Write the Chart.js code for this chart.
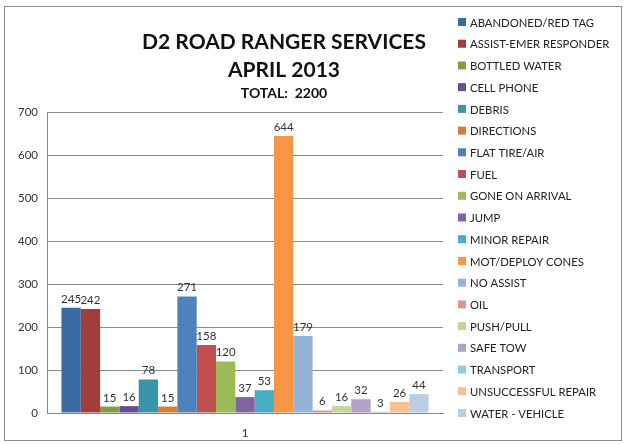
<!DOCTYPE html>
<html>
<head>
<meta charset="utf-8">
<script src="https://cdn.jsdelivr.net/npm/chart.js@4.4.1/dist/chart.umd.min.js"></script>
<style>
    html, body { margin: 0; padding: 0; background: #fff; }
    #wrap { position: relative; width: 624px; height: 444px; }
    #frame { position: absolute; left: 4px; top: 6px; width: 616px; height: 433px; border: 1px solid #8c8c8c; pointer-events: none; }
</style>
</head>
<body>
<div id="wrap">
    <canvas id="myChart" width="624" height="444"></canvas>
    <div id="frame"></div>
</div>
<script>
// data
const categories = ['1'];
const serviceNames = [
    'ABANDONED/RED TAG', 'ASSIST-EMER RESPONDER', 'BOTTLED WATER', 'CELL PHONE',
    'DEBRIS', 'DIRECTIONS', 'FLAT TIRE/AIR', 'FUEL', 'GONE ON ARRIVAL', 'JUMP',
    'MINOR REPAIR', 'MOT/DEPLOY CONES', 'NO ASSIST', 'OIL', 'PUSH/PULL',
    'SAFE TOW', 'TRANSPORT', 'UNSUCCESSFUL REPAIR', 'WATER - VEHICLE'
];
const serviceCounts = [245, 242, 15, 16, 78, 15, 271, 158, 120, 37, 53, 644, 179, 6, 16, 32, 3, 26, 44];
const yTicks = [0, 100, 200, 300, 400, 500, 600, 700];
const titleLines = ['D2 ROAD RANGER SERVICES', 'APRIL 2013'];
const subTitle = 'TOTAL:  2200';

const barColors = [
    '#3c6aa3', '#a23d3a', '#7f9c47', '#664f88', '#3895ab', '#d27e36',
    '#4f81bd', '#c0504d', '#9bbb59', '#8064a2', '#4bacc6', '#f79646',
    '#95b3d7', '#d99694', '#c3d69b', '#b3a2c7', '#93cddd', '#fac090', '#b9cde5'
];

const FONT = 'Lato, "Open Sans", sans-serif';

const datasets = serviceNames.map((name, i) => ({
    label: name,
    data: [serviceCounts[i]],
    backgroundColor: barColors[i],
    borderWidth: 0,
    barPercentage: 1,
    categoryPercentage: 0.927
}));

// value labels above the bars
const valueLabels = {
    id: 'valueLabels',
    afterDatasetsDraw(chart) {
        const ctx = chart.ctx;
        ctx.save();
        ctx.font = '11.5px ' + FONT;
        ctx.fillStyle = '#333';
        ctx.textAlign = 'center';
        ctx.textBaseline = 'bottom';
        chart.data.datasets.forEach((ds, i) => {
            chart.getDatasetMeta(i).data.forEach((bar, j) => {
                ctx.fillText(ds.data[j], bar.x, bar.y - 3);
            });
        });
        ctx.restore();
    }
};

// titles and legend drawn in the spaces kept by the layout padding
const titleAndLegend = {
    id: 'titleAndLegend',
    afterDraw(chart) {
        const ctx = chart.ctx;
        ctx.save();
        ctx.fillStyle = '#111';
        ctx.textAlign = 'center';
        ctx.textBaseline = 'middle';
        ctx.font = 'bold 21px ' + FONT;
        ctx.fillText(titleLines[0], 284, 42);
        ctx.fillText(titleLines[1], 284, 70);
        ctx.font = 'bold 14px ' + FONT;
        ctx.fillText(subTitle, 284, 93);

        ctx.font = '11.3px ' + FONT;
        ctx.textAlign = 'left';
        chart.data.datasets.forEach((ds, i) => {
            const y = 22 + i * 21.72;
            ctx.fillStyle = ds.backgroundColor;
            ctx.fillRect(458, y - 4, 8, 8);
            ctx.fillStyle = '#222';
            ctx.fillText(ds.label, 470, y + 1);
        });
        ctx.restore();
    }
};

const ctx = document.getElementById('myChart').getContext('2d');
const myChart = new Chart(ctx, {
    type: 'bar',
    data: {
        labels: categories,
        datasets: datasets
    },
    options: {
        responsive: false,
        animation: false,
        layout: {
            padding: { top: 112, right: 181, bottom: 7, left: 18 }
        },
        scales: {
            x: {
                grid: { display: false, drawTicks: false },
                border: { color: '#888' },
                ticks: { color: '#333', font: { family: FONT, size: 11.5 }, padding: 13 },
                afterFit: (axis) => { axis.height = 24; }
            },
            y: {
                min: 0,
                max: 700,
                afterBuildTicks: (axis) => {
                    axis.ticks = yTicks.map(v => ({ value: v }));
                },
                grid: { color: '#8a8a8a', drawTicks: false },
                border: { color: '#888' },
                ticks: { color: '#333', font: { family: FONT, size: 11.5 }, padding: 9 },
                afterFit: (axis) => { axis.width = 29; }
            }
        },
        plugins: {
            legend: { display: false },
            title: { display: false },
            tooltip: { enabled: false }
        }
    },
    plugins: [valueLabels, titleAndLegend]
});
</script>
</body>
</html>
